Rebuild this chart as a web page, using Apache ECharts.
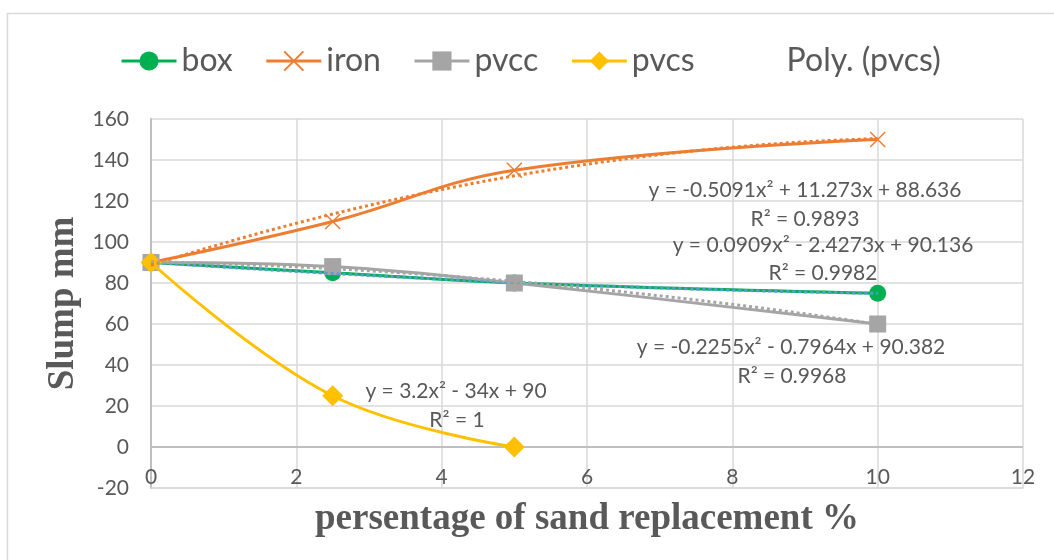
<!DOCTYPE html>
<html>
<head>
<meta charset="utf-8">
<script src="https://cdn.jsdelivr.net/npm/echarts@6/dist/echarts.min.js"></script>
<style>
  html, body { margin: 0; padding: 0; background: #ffffff; }
  #chart { width: 1054px; height: 560px; }
</style>
</head>
<body>
<div id="chart"></div>
<script>
// Replacement percentages (x) and measured slump (mm)
const replacementX = [0, 2.5, 5, 10];
const boxSlump = [90, 85, 80, 75];
const ironSlump = [90, 110, 135, 150];
const pvccSlump = [90, 88, 80, 60];
const pvcsX = [0, 2.5, 5];
const pvcsSlump = [90, 25, 0];

// Second-order polynomial fits: [a, b, c] for y = a*x^2 + b*x + c, with R^2
const ironFit = [-0.5091, 11.273, 88.636];
const ironR2 = 0.9893;
const boxFit = [0.0909, -2.4273, 90.136];
const boxR2 = 0.9982;
const pvccFit = [-0.2255, -0.7964, 90.382];
const pvccR2 = 0.9968;
const pvcsFit = [3.2, -34, 90];
const pvcsR2 = 1;

// Axis ticks
const xMin = 0, xMax = 12, xStep = 2;
const yMin = -20, yMax = 160, yStep = 20;

const COLORS = {
  box: '#00b050',
  iron: '#ed7d31',
  pvcc: '#a5a5a5',
  pvcs: '#ffc000',
  boxFit: '#5b9bd5'
};
const TEXT = '#595959';
const GRID = '#d9d9d9';

function pairs(xs, ys) { return xs.map((x, i) => [x, ys[i]]); }

// Sample a fitted parabola along the x range it was fitted on
function fitCurve(coef, x0, x1) {
  const pts = [];
  const n = 100;
  for (let i = 0; i <= n; i++) {
    const x = x0 + (x1 - x0) * i / n;
    pts.push([x, coef[0] * x * x + coef[1] * x + coef[2]]);
  }
  return pts;
}

function term(v, suffix, first) {
  if (first) return String(v) + suffix;
  return (v < 0 ? ' - ' : ' + ') + String(Math.abs(v)) + suffix;
}
function equation(coef) {
  return 'y = ' + term(coef[0], 'x\u00B2', true) + term(coef[1], 'x', false) + term(coef[2], '', false);
}
function r2Text(r2) { return 'R\u00B2 = ' + String(r2); }

const chart = echarts.init(document.getElementById('chart'), null, { renderer: 'canvas' });

const labelFont = '21px Lato';
function eqLabel(text, x, y) {
  return {
    type: 'text', silent: true, z: 100,
    style: { text: text, x: x, y: y, align: 'center', verticalAlign: 'middle', font: labelFont, fill: TEXT }
  };
}

const crossPath = 'path://M0,0L10,10M10,0L0,10';

const fitLine = (color) => ({ color: color, width: 3, type: [3, 3] });

const option = {
  backgroundColor: '#ffffff',
  animation: false,
  textStyle: { fontFamily: 'Lato' },
  grid: { left: 151, right: 31, top: 119, bottom: 72, containLabel: false, outerBoundsMode: 'none' },
  legend: {
    left: 115, top: 40,
    itemWidth: 55, itemHeight: 24, itemGap: 32,
    lineStyle: { width: 3 },
    textStyle: { fontFamily: 'Lato', fontSize: 32, color: TEXT },
    data: [
      { name: 'box' },
      { name: 'iron' },
      { name: 'pvcc' },
      { name: 'pvcs' },
      { name: 'Poly. (pvcs)', icon: 'none' }
    ],
    selectedMode: false
  },
  xAxis: {
    type: 'value', min: xMin, max: xMax, interval: xStep,
    name: 'persentage of sand replacement %',
    nameLocation: 'middle', nameGap: 13,
    nameTextStyle: { fontFamily: 'Liberation Serif', fontWeight: 'bold', fontSize: 37, color: TEXT, verticalAlign: 'top' },
    axisLine: { show: true, onZero: false, lineStyle: { color: GRID, width: 1.5 } },
    axisTick: { show: false },
    axisLabel: { inside: true, fontFamily: 'Lato', fontSize: 21, color: TEXT, margin: 0 },
    splitLine: { show: true, lineStyle: { color: GRID, width: 1.5 } }
  },
  yAxis: {
    type: 'value', min: yMin, max: yMax, interval: yStep,
    name: 'Slump mm',
    nameLocation: 'middle', nameGap: 64,
    nameTextStyle: { fontFamily: 'Liberation Serif', fontWeight: 'bold', fontSize: 37, color: TEXT },
    axisLine: { show: true, onZero: false, lineStyle: { color: '#bfbfbf', width: 2 } },
    axisTick: { show: false },
    axisLabel: { fontFamily: 'Lato', fontSize: 21, color: TEXT, margin: 22 },
    splitLine: { show: true, lineStyle: { color: GRID, width: 1.5 } }
  },
  series: [
    {
      name: 'box', type: 'line', data: pairs(replacementX, boxSlump), smooth: 0.4,
      symbol: 'circle', symbolSize: 17, color: COLORS.box,
      lineStyle: { color: COLORS.box, width: 3 }, itemStyle: { color: COLORS.box }, z: 2,
      // horizontal axis line through zero
      markLine: {
        silent: true, symbol: 'none', label: { show: false }, z: 1,
        lineStyle: { color: '#bfbfbf', width: 2, type: 'solid' },
        data: [{ yAxis: 0 }]
      }
    },
    {
      name: 'iron', type: 'line', data: pairs(replacementX, ironSlump), smooth: 0.4,
      symbol: crossPath, symbolSize: 15, color: COLORS.iron,
      lineStyle: { color: COLORS.iron, width: 3 },
      itemStyle: { color: COLORS.iron, borderColor: COLORS.iron, borderWidth: 1.5 }, z: 3
    },
    {
      name: 'pvcc', type: 'line', data: pairs(replacementX, pvccSlump), smooth: 0.4,
      symbol: 'rect', symbolSize: 17, color: COLORS.pvcc,
      lineStyle: { color: COLORS.pvcc, width: 3 }, itemStyle: { color: COLORS.pvcc }, z: 4
    },
    {
      name: 'pvcs', type: 'line', data: pairs(pvcsX, pvcsSlump), smooth: 0.4,
      symbol: 'diamond', symbolSize: 21, color: COLORS.pvcs,
      lineStyle: { color: COLORS.pvcs, width: 3 }, itemStyle: { color: COLORS.pvcs }, z: 5
    },
    // Polynomial trend lines
    {
      name: 'Poly. (box)', type: 'line', data: fitCurve(boxFit, 0, 10), showSymbol: false, symbol: 'none',
      silent: true, lineStyle: fitLine(COLORS.boxFit), z: 6
    },
    {
      name: 'Poly. (iron)', type: 'line', data: fitCurve(ironFit, 0, 10), showSymbol: false, symbol: 'none',
      silent: true, lineStyle: fitLine(COLORS.iron), z: 6
    },
    {
      name: 'Poly. (pvcc)', type: 'line', data: fitCurve(pvccFit, 0, 10), showSymbol: false, symbol: 'none',
      silent: true, lineStyle: fitLine(COLORS.pvcc), z: 6
    },
    {
      name: 'Poly. (pvcs)', type: 'line', data: fitCurve(pvcsFit, 0, 5), showSymbol: false, symbol: 'none',
      silent: true, color: COLORS.pvcs, lineStyle: { color: COLORS.pvcs, width: 3, opacity: 0 }, z: 6
    }
  ],
  graphic: [
    {
      type: 'rect', silent: true, z: -10,
      shape: { x: 7.5, y: 13.5, width: 1100, height: 600 },
      style: { fill: 'none', stroke: GRID, lineWidth: 1.5 }
    },
    eqLabel(equation(ironFit), 805, 190),
    eqLabel(r2Text(ironR2), 805, 219),
    eqLabel(equation(boxFit), 823, 245),
    eqLabel(r2Text(boxR2), 823, 273),
    eqLabel(equation(pvccFit), 791, 347),
    eqLabel(r2Text(pvccR2), 792, 376),
    eqLabel(equation(pvcsFit), 456, 391),
    eqLabel(r2Text(pvcsR2), 457, 420)
  ]
};

chart.setOption(option);
</script>
</body>
</html>
